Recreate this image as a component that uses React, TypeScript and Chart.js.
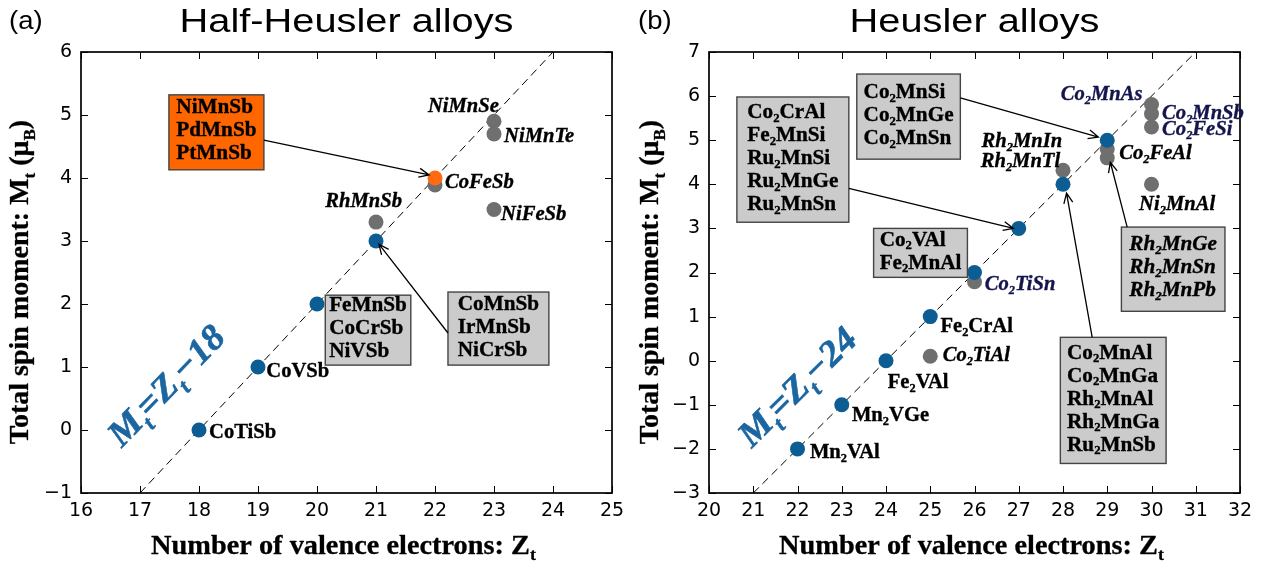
import React, { useEffect, useRef } from 'react';
import { Chart, registerables } from 'chart.js';
Chart.register(...registerables);

// ---------------- data: panel (a) Half-Heusler ----------------
const aBlueZ = [18, 19, 20, 21];
const aBlueM = [0, 1, 2, 3];
const aOrangeZ = [22];
const aOrangeM = [4];
const aGrayZ = [21, 22, 23, 23, 23];
const aGrayM = [3.3, 3.89, 4.9, 4.7, 3.5];
const aRuleZ = [17, 24];
const aRuleM = [-1, 6];
const aXTicks = [16, 17, 18, 19, 20, 21, 22, 23, 24, 25];
const aXTickLabels = ['16', '17', '18', '19', '20', '21', '22', '23', '24', '25'];
const aYTicks = [-1, 0, 1, 2, 3, 4, 5, 6];
const aYTickLabels = ['\u22121', '0', '1', '2', '3', '4', '5', '6'];

// ---------------- data: panel (b) Heusler ----------------
const bBlueZ = [22, 23, 24, 25, 26, 27, 28, 29];
const bBlueM = [-2, -1, 0, 1, 2, 3, 4, 5];
const bGrayZ = [25, 26, 28, 29, 29, 30, 30, 30, 30];
const bGrayM = [0.1, 1.79, 4.32, 4.8, 4.6, 5.81, 5.6, 5.3, 4.0];
const bRuleZ = [21, 31];
const bRuleM = [-3, 7];
const bXTicks = [20, 21, 22, 23, 24, 25, 26, 27, 28, 29, 30, 31, 32];
const bXTickLabels = ['20', '21', '22', '23', '24', '25', '26', '27', '28', '29', '30', '31', '32'];
const bYTicks = [-3, -2, -1, 0, 1, 2, 3, 4, 5, 6, 7];
const bYTickLabels = ['\u22123', '\u22122', '\u22121', '0', '1', '2', '3', '4', '5', '6', '7'];

// ---------------- styles ----------------
const BLUE = '#0b5d93';
const GRAY = '#6f6f6f';
const ORANGE = '#ff6a13';
const NAVY = '#15154d';
const FORMULA = '#1b66a0';
const BOXGRAY = '#cbcbcb';
const SERIF = '"Liberation Serif", "Times New Roman", serif';
const SANS = '"Liberation Sans", Arial, sans-serif';

type Lbl = { x: number; y: number; t: string; it?: boolean; c?: string };
type Box = { x1: number; y1: number; x2: number; y2: number; lines: string[]; fill?: string; it?: boolean };
type Arr = { x1: number; y1: number; x2: number; y2: number };

// annotations panel (a)
const aLabels: Lbl[] = [
  { x: 21.88, y: 5.13, t: 'NiMnSe', it: true },
  { x: 23.17, y: 4.65, t: 'NiMnTe', it: true },
  { x: 22.17, y: 3.92, t: 'CoFeSb', it: true },
  { x: 20.14, y: 3.62, t: 'RhMnSb', it: true },
  { x: 23.12, y: 3.41, t: 'NiFeSb', it: true },
  { x: 19.14, y: 0.92, t: 'CoVSb' },
  { x: 18.17, y: -0.05, t: 'CoTiSb' },
];
const aBoxes: Box[] = [
  { x1: 17.49, y1: 5.32, x2: 19.1, y2: 4.13, lines: ['NiMnSb', 'PdMnSb', 'PtMnSb'], fill: '#ff6600' },
  { x1: 20.14, y1: 2.14, x2: 21.59, y2: 1.03, lines: ['FeMnSb', 'CoCrSb', 'NiVSb'] },
  { x1: 22.22, y1: 2.19, x2: 23.93, y2: 1.03, lines: ['CoMnSb', 'IrMnSb', 'NiCrSb'] },
];
const aArrows: Arr[] = [
  { x1: 19.1, y1: 4.6, x2: 21.9, y2: 4.05 },
  { x1: 22.22, y1: 1.54, x2: 21.05, y2: 2.95 },
];

// annotations panel (b)
const bLabels: Lbl[] = [
  { x: 27.95, y: 6.02, t: 'Co_2MnAs', it: true, c: NAVY },
  { x: 30.24, y: 5.59, t: 'Co_2MnSb', it: true, c: NAVY },
  { x: 30.24, y: 5.23, t: 'Co_2FeSi', it: true, c: NAVY },
  { x: 29.27, y: 4.68, t: 'Co_2FeAl', it: true },
  { x: 26.16, y: 4.96, t: 'Rh_2MnIn', it: true },
  { x: 26.14, y: 4.5, t: 'Rh_2MnTl', it: true },
  { x: 29.72, y: 3.53, t: 'Ni_2MnAl', it: true },
  { x: 26.23, y: 1.73, t: 'Co_2TiSn', it: true, c: NAVY },
  { x: 25.23, y: 0.76, t: 'Fe_2CrAl' },
  { x: 25.28, y: 0.1, t: 'Co_2TiAl', it: true },
  { x: 24.04, y: -0.51, t: 'Fe_2VAl' },
  { x: 23.23, y: -1.26, t: 'Mn_2VGe' },
  { x: 22.28, y: -2.08, t: 'Mn_2VAl' },
];
const bBoxes: Box[] = [
  { x1: 20.63, y1: 5.98, x2: 23.16, y2: 3.14, lines: ['Co_2CrAl', 'Fe_2MnSi', 'Ru_2MnSi', 'Ru_2MnGe', 'Ru_2MnSn'] },
  { x1: 23.34, y1: 6.5, x2: 25.68, y2: 4.57, lines: ['Co_2MnSi', 'Co_2MnGe', 'Co_2MnSn'] },
  { x1: 23.72, y1: 3.0, x2: 25.84, y2: 1.89, lines: ['Co_2VAl', 'Fe_2MnAl'] },
  { x1: 29.32, y1: 3.03, x2: 31.66, y2: 1.12, lines: ['Rh_2MnGe', 'Rh_2MnSn', 'Rh_2MnPb'], it: true },
  { x1: 27.94, y1: 0.53, x2: 30.33, y2: -2.33, lines: ['Co_2MnAl', 'Co_2MnGa', 'Rh_2MnAl', 'Rh_2MnGa', 'Ru_2MnSb'] },
];
const bArrows: Arr[] = [
  { x1: 23.16, y1: 3.91, x2: 26.88, y2: 3.0 },
  { x1: 25.68, y1: 5.96, x2: 28.8, y2: 5.07 },
  { x1: 29.45, y1: 3.03, x2: 29.07, y2: 4.5 },
  { x1: 28.66, y1: 0.53, x2: 28.08, y2: 3.8 },
];

// ---------------- rich text helpers ----------------
type Seg = { t: string; sub: boolean };
function parseRich(s: string): Seg[] {
  const segs: Seg[] = [];
  let cur = '';
  for (let i = 0; i < s.length; i++) {
    if (s[i] === '_' && i + 1 < s.length) {
      if (cur) segs.push({ t: cur, sub: false });
      cur = '';
      segs.push({ t: s[i + 1], sub: true });
      i++;
    } else cur += s[i];
  }
  if (cur) segs.push({ t: cur, sub: false });
  return segs;
}
type RO = {
  size: number; italic?: boolean; color?: string; align?: 'left' | 'center' | 'right';
  sx?: number; family?: string; weight?: string; subScale?: number; subDy?: number;
  baseline?: CanvasTextBaseline; heavy?: number;
};
function fonts(o: RO) {
  const fam = o.family || SERIF;
  const w = o.weight || 'bold';
  const it = o.italic ? 'italic ' : '';
  return {
    main: `${it}${w} ${o.size}px ${fam}`,
    sub: `${it}${w} ${Math.round(o.size * (o.subScale || 0.62))}px ${fam}`,
  };
}
function measureRich(ctx: CanvasRenderingContext2D, s: string, o: RO) {
  const f = fonts(o);
  let w = 0;
  for (const sg of parseRich(s)) {
    ctx.font = sg.sub ? f.sub : f.main;
    w += ctx.measureText(sg.t).width;
  }
  return w * (o.sx || 1);
}
function drawRich(ctx: CanvasRenderingContext2D, s: string, x: number, y: number, o: RO) {
  const f = fonts(o);
  const segs = parseRich(s);
  const ws: number[] = [];
  let w = 0;
  for (const sg of segs) {
    ctx.font = sg.sub ? f.sub : f.main;
    const m = ctx.measureText(sg.t).width;
    ws.push(m);
    w += m;
  }
  ctx.save();
  ctx.translate(x, y);
  ctx.scale(o.sx || 1, 1);
  ctx.fillStyle = o.color || '#000';
  ctx.strokeStyle = o.color || '#000';
  ctx.lineWidth = o.heavy || 0;
  ctx.lineJoin = 'round';
  ctx.textBaseline = o.baseline || 'middle';
  ctx.textAlign = 'left';
  let cx = o.align === 'center' ? -w / 2 : o.align === 'right' ? -w : 0;
  const dy = o.size * (o.subDy ?? 0.3);
  segs.forEach((sg, i) => {
    ctx.font = sg.sub ? f.sub : f.main;
    ctx.fillText(sg.t, cx, sg.sub ? dy : 0);
    if (o.heavy) ctx.strokeText(sg.t, cx, sg.sub ? dy : 0);
    cx += ws[i];
  });
  ctx.restore();
}

type Spec = {
  title: string; tag: string; formula: string; fx: number; fy: number; fAngle: number;
  labels: Lbl[]; boxes: Box[]; arrows: Arr[]; xTicks: number[]; yTicks: number[]; ylabX: number;
};

function makeDecor(spec: Spec) {
  return {
    id: 'decor_' + spec.tag,
    afterDatasetsDraw(chart: any) {
      const { ctx, chartArea: ca, scales } = chart;
      const X = (v: number) => scales.x.getPixelForValue(v);
      const Y = (v: number) => scales.y.getPixelForValue(v);
      ctx.save();
      // inward ticks on all four sides
      ctx.strokeStyle = '#000';
      ctx.lineWidth = 1;
      ctx.beginPath();
      for (const v of spec.xTicks) {
        const px = Math.round(X(v)) + 0.5;
        ctx.moveTo(px, ca.bottom); ctx.lineTo(px, ca.bottom - 7);
        ctx.moveTo(px, ca.top); ctx.lineTo(px, ca.top + 7);
      }
      for (const v of spec.yTicks) {
        const py = Math.round(Y(v)) + 0.5;
        ctx.moveTo(ca.left, py); ctx.lineTo(ca.left + 7, py);
        ctx.moveTo(ca.right, py); ctx.lineTo(ca.right - 7, py);
      }
      ctx.stroke();
      ctx.lineWidth = 1.7;
      ctx.strokeRect(ca.left, ca.top, ca.right - ca.left, ca.bottom - ca.top);

      // boxes
      const boxFont = { size: 20, sx: 1.06, heavy: 0.35 };
      for (const b of spec.boxes) {
        const x1 = X(b.x1), x2 = X(b.x2), y1 = Y(b.y1), y2 = Y(b.y2);
        ctx.fillStyle = b.fill || BOXGRAY;
        ctx.fillRect(x1, y1, x2 - x1, y2 - y1);
        ctx.strokeStyle = '#444';
        ctx.lineWidth = 1.4;
        ctx.strokeRect(x1, y1, x2 - x1, y2 - y1);
        let mw = 0;
        for (const l of b.lines) mw = Math.max(mw, measureRich(ctx, l, { ...boxFont, italic: b.it }));
        const left = (x1 + x2) / 2 - mw / 2;
        const cy = (y1 + y2) / 2;
        const n = b.lines.length;
        b.lines.forEach((l, i) => {
          drawRich(ctx, l, left, cy + (i - (n - 1) / 2) * 23 - 1, { ...boxFont, italic: b.it });
        });
      }

      // arrows
      ctx.strokeStyle = '#000';
      ctx.lineWidth = 1.3;
      for (const a of spec.arrows) {
        const sx = X(a.x1), sy = Y(a.y1), ex = X(a.x2), ey = Y(a.y2);
        const ang = Math.atan2(ey - sy, ex - sx);
        ctx.beginPath();
        ctx.moveTo(sx, sy); ctx.lineTo(ex, ey);
        const L = 11, sp = 0.42;
        ctx.moveTo(ex - L * Math.cos(ang - sp), ey - L * Math.sin(ang - sp));
        ctx.lineTo(ex, ey);
        ctx.lineTo(ex - L * Math.cos(ang + sp), ey - L * Math.sin(ang + sp));
        ctx.stroke();
      }

      // point labels
      for (const l of spec.labels) {
        drawRich(ctx, l.t, X(l.x), Y(l.y), { size: 20, sx: 1.03, italic: l.it, color: l.c || '#000', heavy: 0.35 });
      }

      // formula along the rule
      ctx.save();
      ctx.translate(X(spec.fx), Y(spec.fy));
      ctx.rotate(spec.fAngle * Math.PI / 180);
      drawRich(ctx, spec.formula, 0, 0, { size: 36, italic: true, color: FORMULA, align: 'center', subScale: 0.62, subDy: 0.36, sx: 1.05, heavy: 0.6 });
      ctx.restore();

      // titles
      const cx = (ca.left + ca.right) / 2;
      drawRich(ctx, spec.title, cx, 32, { size: 34, family: SANS, weight: 'normal', align: 'center', sx: 1.17, baseline: 'alphabetic' });
      drawRich(ctx, spec.tag, spec.tag === '(a)' ? 9 : 5, 29, { size: 25, family: SANS, weight: 'normal', sx: 1.1, baseline: 'alphabetic' });
      drawRich(ctx, 'Number of valence electrons: Z_t', cx - 3, 547, { size: 27, sx: 1.05, align: 'center', subDy: 0.33, heavy: 0.3 });
      ctx.save();
      ctx.translate(spec.ylabX, 282);
      ctx.rotate(-Math.PI / 2);
      drawRich(ctx, 'Total spin moment: M_t (\u03bc_B)', 0, 0, { size: 28, align: 'center', subDy: 0.33, heavy: 0.3 });
      ctx.restore();
      ctx.restore();
    },
  };
}

function pts(zs: number[], ms: number[]) {
  return zs.map((z, i) => ({ x: z, y: ms[i] }));
}

type PanelCfg = {
  spec: Spec; blueZ: number[]; blueM: number[]; grayZ: number[]; grayM: number[];
  orangeZ?: number[]; orangeM?: number[]; ruleZ: number[]; ruleM: number[];
  xLabels: string[]; yLabels: string[]; xmin: number; xmax: number; ymin: number; ymax: number;
  axisW: number; padRight: number;
};

function Panel({ cfg, left }: { cfg: PanelCfg; left: number }) {
  const ref = useRef<HTMLCanvasElement>(null);
  useEffect(() => {
    const datasets: any[] = [];
    if (cfg.orangeZ && cfg.orangeM) {
      datasets.push({ data: pts(cfg.orangeZ, cfg.orangeM), backgroundColor: ORANGE, borderWidth: 0, pointRadius: 7.5, order: 0 });
    }
    datasets.push({ data: pts(cfg.blueZ, cfg.blueM), backgroundColor: BLUE, borderWidth: 0, pointRadius: 7.5, order: 1 });
    datasets.push({ data: pts(cfg.grayZ, cfg.grayM), backgroundColor: GRAY, borderWidth: 0, pointRadius: 7.5, order: 2 });
    datasets.push({
      data: pts(cfg.ruleZ, cfg.ruleM), showLine: true, borderColor: '#000', borderWidth: 1,
      borderDash: [8, 5], pointRadius: 0, fill: false, order: 3,
    });
    const tickFont = { family: '"DejaVu Sans", sans-serif', size: 19 };
    const chart = new Chart(ref.current as HTMLCanvasElement, {
      type: 'scatter',
      data: { datasets },
      options: {
        animation: false,
        responsive: false,
        maintainAspectRatio: false,
        layout: { padding: { left: 0, top: 52, right: cfg.padRight, bottom: 0 } },
        plugins: { legend: { display: false }, tooltip: { enabled: false } },
        scales: {
          x: {
            type: 'linear', min: cfg.xmin, max: cfg.xmax,
            grid: { display: false, drawTicks: false }, border: { display: false },
            afterBuildTicks: (s: any) => { s.ticks = cfg.spec.xTicks.map((v) => ({ value: v })); },
            afterFit: (s: any) => { s.height = 74; },
            ticks: {
              autoSkip: false, maxRotation: 0, minRotation: 0, padding: 7, color: '#000', font: tickFont,
              callback: (_v: any, i: number) => cfg.xLabels[i],
            },
          },
          y: {
            type: 'linear', min: cfg.ymin, max: cfg.ymax,
            grid: { display: false, drawTicks: false }, border: { display: false },
            afterBuildTicks: (s: any) => { s.ticks = cfg.spec.yTicks.map((v) => ({ value: v })); },
            afterFit: (s: any) => { s.width = cfg.axisW; },
            ticks: {
              autoSkip: false, padding: 9, color: '#000', font: tickFont,
              callback: (_v: any, i: number) => cfg.yLabels[i],
            },
          },
        },
      },
      plugins: [makeDecor(cfg.spec)],
    } as any);
    return () => chart.destroy();
  }, [cfg]);
  return (
    <canvas
      ref={ref}
      width={633}
      height={567}
      style={{ position: 'absolute', left, top: 0, width: 633, height: 567, display: 'block' }}
    />
  );
}

const panelA: PanelCfg = {
  spec: {
    title: 'Half-Heusler alloys', tag: '(a)', formula: 'M_t=Z_t\u221218', fx: 17.47, fy: 0.68, fAngle: -46,
    labels: aLabels, boxes: aBoxes, arrows: aArrows, xTicks: aXTicks, yTicks: aYTicks, ylabX: 21,
  },
  blueZ: aBlueZ, blueM: aBlueM, grayZ: aGrayZ, grayM: aGrayM, orangeZ: aOrangeZ, orangeM: aOrangeM,
  ruleZ: aRuleZ, ruleM: aRuleM, xLabels: aXTickLabels, yLabels: aYTickLabels,
  xmin: 16, xmax: 25, ymin: -1, ymax: 6, axisW: 81, padRight: 21,
};

const panelB: PanelCfg = {
  spec: {
    title: 'Heusler alloys', tag: '(b)', formula: 'M_t=Z_t\u221224', fx: 22.03, fy: -0.63, fAngle: -45,
    labels: bLabels, boxes: bBoxes, arrows: bArrows, xTicks: bXTicks, yTicks: bYTicks, ylabX: 18,
  },
  blueZ: bBlueZ, blueM: bBlueM, grayZ: bGrayZ, grayM: bGrayM,
  ruleZ: bRuleZ, ruleM: bRuleM, xLabels: bXTickLabels, yLabels: bYTickLabels,
  xmin: 20, xmax: 32, ymin: -3, ymax: 7, axisW: 76, padRight: 26,
};

export default function App() {
  return (
    <div style={{ position: 'fixed', left: 0, top: 0, width: 1266, height: 567, background: '#fff', overflow: 'hidden' }}>
      <Panel cfg={panelA} left={0} />
      <Panel cfg={panelB} left={633} />
    </div>
  );
}
